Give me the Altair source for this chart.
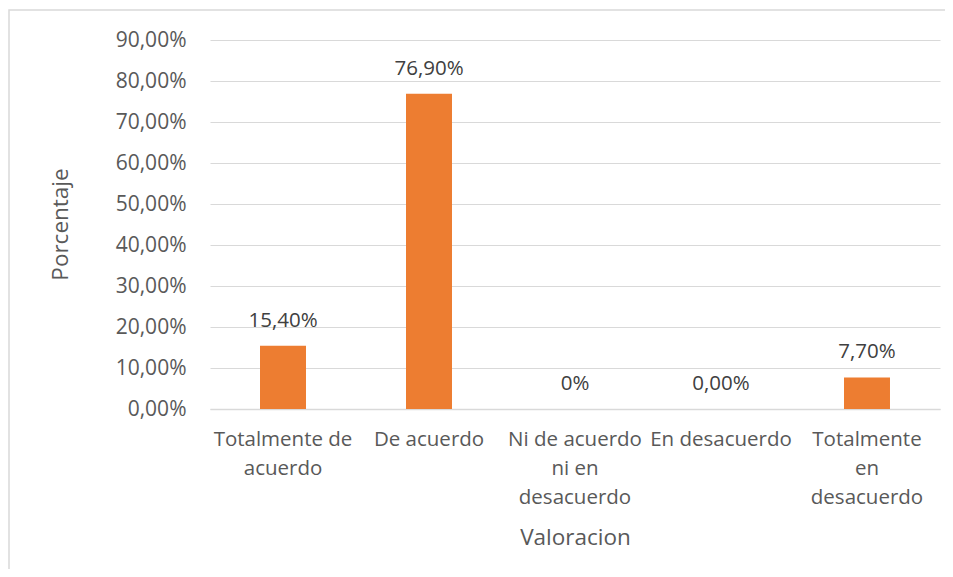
import altair as alt
import pandas as pd

categories = ["Totalmente de|acuerdo", "De acuerdo", "Ni de acuerdo|ni en|desacuerdo", "En desacuerdo", "Totalmente|en|desacuerdo"]
values = [0.154, 0.769, 0.0, 0.0, 0.077]
labels = ["15,40%", "76,90%", "0%", "0,00%", "7,70%"]

df = pd.DataFrame({"cat": categories, "val": values, "lab": labels})

FONT = "Open Sans"
TXT = "#595959"

x = alt.X("cat:N", sort=categories, title="Valoracion",
          scale=alt.Scale(paddingInner=0.685, paddingOuter=0.3425),
          axis=alt.Axis(labelExpr="split(datum.label, '|')", labelAngle=0,
                        labelFontSize=20.5, labelColor=TXT, labelFont=FONT,
                        labelPadding=20, labelLineHeight=29, ticks=False,
                        domainColor="#d9d9d9", domainWidth=1.5,
                        titleFontSize=22.5, titleColor=TXT, titleFont=FONT,
                        titleFontWeight="normal", titleX=365, titleY=128,
                        titleBaseline="middle"))
y = alt.Y("val:Q", title="Porcentaje",
          scale=alt.Scale(domain=[0, 0.9]),
          axis=alt.Axis(values=[i / 10 for i in range(10)],
                        labelExpr="replace(format(datum.value, '.2%'), '.', ',')",
                        labelFontSize=21, labelColor=TXT, labelFont=FONT,
                        labelPadding=24, ticks=False, domain=False,
                        gridColor="#d9d9d9", gridWidth=1.2,
                        titleFontSize=22.5, titleColor=TXT, titleFont=FONT,
                        titleFontWeight="normal", titleX=-150, titleY=184,
                        titleAngle=-90, titleBaseline="middle"))

bars = alt.Chart(df).mark_bar(color="#ED7D31").encode(x=x, y=y)
text = alt.Chart(df).mark_text(dy=-25, fontSize=20.5, color="#404040", font=FONT).encode(
    x=alt.X("cat:N", sort=categories), y="val:Q", text="lab:N")

border = alt.Chart(pd.DataFrame({"a": [0]})).mark_rect(
    fill=None, stroke="#d9d9d9", strokeWidth=1.5).encode(
    x=alt.value(-201), x2=alt.value(740), y=alt.value(-30), y2=alt.value(580))

chart = alt.layer(border, bars, text).properties(
    width=730, height=369,
    autosize=alt.AutoSizeParams(type="none"),
    padding={"left": 202, "top": 32, "right": 5, "bottom": 160},
).configure(background="white").configure_view(stroke=None)

chart.save("out.html", embed_options={"renderer": "svg", "actions": False})
